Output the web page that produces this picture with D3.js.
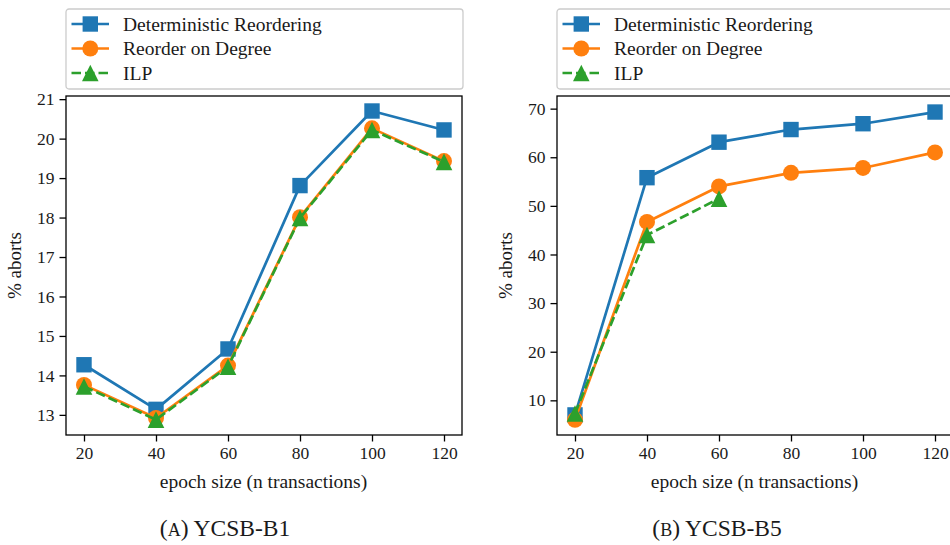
<!DOCTYPE html>
<html>
<head>
<meta charset="utf-8">
<script src="https://cdn.jsdelivr.net/npm/d3@7"></script>
<style>
  body { margin: 0; background: #fff; }
  svg { display: block; font-family: "Liberation Serif", "Times New Roman", serif; }
</style>
</head>
<body>
<svg id="chart" width="950" height="545"></svg>
<script>
// x values shared by both panels
const epochSizes = [20, 40, 60, 80, 100, 120]
const xTicks = [20, 40, 60, 80, 100, 120]
const seriesNames = ['Deterministic Reordering', 'Reorder on Degree', 'ILP']

// (A) YCSB-B1
const b1Deterministic = [14.27, 13.14, 14.67, 18.81, 20.70, 20.22]
const b1Degree = [13.76, 12.92, 14.25, 18.01, 20.26, 19.43]
const b1Ilp = [13.72, 12.88, 14.22, 17.99, 20.22, 19.41]
const b1YTicks = [13, 14, 15, 16, 17, 18, 19, 20, 21]
const b1YRange = [12.49, 21.08]

// (B) YCSB-B5
const b5Deterministic = [7.0, 55.8, 63.1, 65.7, 66.9, 69.3]
const b5Degree = [6.0, 46.7, 54.0, 56.8, 57.8, 61.0]
const b5Ilp = [7.3, 44.0, 51.5] // only measured up to 60
const b5YTicks = [10, 20, 30, 40, 50, 60, 70]
const b5YRange = [2.87, 72.6]

const colors = ['#1f77b4', '#ff7f0e', '#2ca02c']
const markers = ['square', 'circle', 'triangle']
const dashes = [null, null, '9.5,4']

const xRange = [15, 125]
const plotTop = 96, plotBottom = 435, plotWidth = 396
const markerSize = 16

const panels = [
  { left: 66, prefix: 'A', name: 'YCSB-B1', captionX: 225, yTicks: b1YTicks, yRange: b1YRange,
    series: [b1Deterministic, b1Degree, b1Ilp] },
  { left: 557, prefix: 'B', name: 'YCSB-B5', captionX: 717, yTicks: b5YTicks, yRange: b5YRange,
    series: [b5Deterministic, b5Degree, b5Ilp] },
]

const svg = d3.select('#chart')

function drawMarker(sel, type, color) {
  const h = markerSize / 2
  if (type === 'square') {
    sel.append('rect').attr('x', -h + 0.3).attr('y', -h + 0.3)
      .attr('width', markerSize - 0.6).attr('height', markerSize - 0.6)
      .attr('fill', color)
  } else if (type === 'circle') {
    sel.append('circle').attr('r', h).attr('fill', color)
  } else {
    const t = h + 0.3
    sel.append('path').attr('d', `M0,${-t}L${t},${t}L${-t},${t}Z`).attr('fill', color)
  }
}

function drawPanel(panel) {
  const g = svg.append('g').attr('transform', `translate(${panel.left},0)`)

  const x = d3.scaleLinear().domain(xRange).range([0, plotWidth])
  const y = d3.scaleLinear().domain(panel.yRange).range([plotBottom, plotTop])

  // axes
  const xAxis = g.append('g')
    .attr('transform', `translate(0,${plotBottom})`)
    .call(d3.axisBottom(x).tickValues(xTicks).tickSize(6.5).tickPadding(5))
  const yAxis = g.append('g')
    .call(d3.axisLeft(y).tickValues(panel.yTicks).tickFormat(d3.format('d')).tickSize(6.5).tickPadding(5))
  for (const ax of [xAxis, yAxis]) {
    ax.select('.domain').remove()
    ax.selectAll('line').attr('stroke', '#000').attr('stroke-width', 1.3)
    ax.selectAll('text').attr('fill', '#1a1a1a').style('font-size', '17.5px')
      .style('font-family', '"Liberation Serif", serif')
  }

  // lines + markers, one series at a time
  panel.series.forEach(function (values, i) {
    const pts = values.map((v, j) => [epochSizes[j], v])
    g.append('path')
      .datum(pts)
      .attr('fill', 'none')
      .attr('stroke', colors[i])
      .attr('stroke-width', 2.7)
      .attr('stroke-dasharray', dashes[i])
      .attr('stroke-linejoin', 'round')
      .attr('d', d3.line().x(d => x(d[0])).y(d => y(d[1])))
    g.append('g').selectAll('g')
      .data(pts)
      .enter().append('g')
      .attr('transform', d => `translate(${x(d[0])},${y(d[1])})`)
      .each(function () { drawMarker(d3.select(this), markers[i], colors[i]) })
  })

  // frame
  g.append('rect')
    .attr('x', 0).attr('y', plotTop)
    .attr('width', plotWidth).attr('height', plotBottom - plotTop)
    .attr('fill', 'none').attr('stroke', '#000').attr('stroke-width', 1.3)

  // axis labels
  g.append('text')
    .attr('x', plotWidth / 2 - 0.5).attr('y', 488)
    .attr('text-anchor', 'middle')
    .style('font-size', '19.5px').attr('fill', '#1a1a1a')
    .text('epoch size (n transactions)')
  g.append('text')
    .attr('transform', `translate(-45,${(plotTop + plotBottom) / 2}) rotate(-90)`)
    .attr('text-anchor', 'middle')
    .style('font-size', '19px').attr('fill', '#1a1a1a')
    .text('% aborts')

  // legend
  const legend = g.append('g').attr('transform', 'translate(0,9)')
  legend.append('rect')
    .attr('width', 397).attr('height', 80).attr('rx', 3)
    .attr('fill', '#fff').attr('fill-opacity', 0.8)
    .attr('stroke', '#cccccc').attr('stroke-width', 1.3)
  seriesNames.forEach(function (name, i) {
    const row = legend.append('g').attr('transform', `translate(0,${15 + i * 24.5})`)
    row.append('line')
      .attr('x1', 5.5).attr('x2', 43)
      .attr('stroke', colors[i]).attr('stroke-width', 2.7)
      .attr('stroke-dasharray', dashes[i])
    drawMarker(row.append('g').attr('transform', 'translate(24.3,0)'), markers[i], colors[i])
    row.append('text')
      .attr('x', 57).attr('y', 6.5)
      .style('font-size', '19.5px').attr('fill', '#1a1a1a')
      .text(name)
  })

  // caption
  const cap = svg.append('text')
    .attr('x', panel.captionX).attr('y', 536)
    .attr('text-anchor', 'middle')
    .style('font-size', '23.5px').attr('fill', '#1a1a1a')
  cap.append('tspan').text('(')
  cap.append('tspan').style('font-size', '18px').text(panel.prefix)
  cap.append('tspan').text(') ' + panel.name)
}

panels.forEach(drawPanel)
</script>
</body>
</html>
